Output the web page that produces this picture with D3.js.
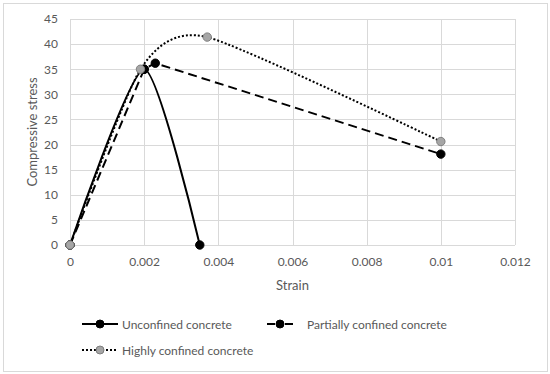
<!DOCTYPE html>
<html>
<head>
<meta charset="utf-8">
<script src="https://cdn.jsdelivr.net/npm/d3@7"></script>
<style>
  body { margin: 0; background: #fff; }
  text { font-family: Lato, "Open Sans", sans-serif; fill: #595959; }
</style>
</head>
<body>
<div id="chart"></div>
<script>
// Datos
const xTicks = [0, 0.002, 0.004, 0.006, 0.008, 0.01, 0.012];
const xTickLabels = ["0", "0.002", "0.004", "0.006", "0.008", "0.01", "0.012"];
const yTicks = [0, 5, 10, 15, 20, 25, 30, 35, 40, 45];

const unconfinedStrain = [0, 0.002, 0.0035];
const unconfinedStress = [0, 35, 0];
const partialStrain = [0, 0.002, 0.0023, 0.01];
const partialStress = [0, 35, 36.2, 18.1];
const highStrain = [0, 0.0019, 0.0037, 0.01];
const highStress = [0, 35, 41.4, 20.6];

const seriesNames = ["Unconfined concrete", "Partially confined concrete", "Highly confined concrete"];

const width = 550, height = 374;
const margin = { top: 19, right: 35, bottom: 129, left: 70 };
const w = width - margin.left - margin.right;
const h = height - margin.top - margin.bottom;

const svg = d3.select("#chart").append("svg")
    .attr("width", width)
    .attr("height", height);

// borde exterior
svg.append("rect")
    .attr("x", 3.5).attr("y", 3.5)
    .attr("width", 544).attr("height", 368)
    .attr("fill", "none").attr("stroke", "#d9d9d9");

const g = svg.append("g").attr("transform", `translate(${margin.left},${margin.top})`);

const x = d3.scaleLinear().domain([0, 0.012]).range([0, w]);
const y = d3.scaleLinear().domain([0, 45]).range([h, 0]);

// --- rejilla ---
g.append("g").selectAll("line").data(yTicks).enter().append("line")
    .attr("x1", 0).attr("x2", w)
    .attr("y1", d => Math.round(y(d)) + 0.5).attr("y2", d => Math.round(y(d)) + 0.5)
    .attr("stroke", "#d9d9d9");
g.append("g").selectAll("line").data(xTicks).enter().append("line")
    .attr("y1", 0).attr("y2", h)
    .attr("x1", d => Math.round(x(d)) + 0.5).attr("x2", d => Math.round(x(d)) + 0.5)
    .attr("stroke", "#d9d9d9");

// --- ejes ---
const xAxis = g.append("g").attr("transform", `translate(0,${h})`)
    .call(d3.axisBottom(x).tickValues(xTicks).tickFormat((d, i) => xTickLabels[i]).tickSize(0).tickPadding(12));
xAxis.select(".domain").remove();
xAxis.selectAll("text").style("font-size", "12px").style("fill", "#595959");

const yAxis = g.append("g")
    .call(d3.axisLeft(y).tickValues(yTicks).tickSize(0).tickPadding(12));
yAxis.select(".domain").remove();
yAxis.selectAll("text").style("font-size", "12px").style("fill", "#595959");

g.append("text").attr("text-anchor", "middle")
    .attr("x", w / 2).attr("y", h + 45)
    .style("font-size", "13px")
    .text("Strain");

g.append("text").attr("text-anchor", "middle")
    .attr("transform", "rotate(-90)")
    .attr("x", -h / 2).attr("y", -33)
    .style("font-size", "13px")
    .text("Compressive stress");

// --- series ---
const smooth = d3.line().x(d => x(d[0])).y(d => y(d[1])).curve(d3.curveCardinal.tension(0.35));
const straight = d3.line().x(d => x(d[0])).y(d => y(d[1]));

const series = [
    { name: seriesNames[0], xs: unconfinedStrain, ys: unconfinedStress, dash: null, fill: "#000", stroke: "#000", line: smooth },
    { name: seriesNames[1], xs: partialStrain, ys: partialStress, dash: "9 5", fill: "#000", stroke: "#000", line: straight },
    { name: seriesNames[2], xs: highStrain, ys: highStress, dash: "2 2", fill: "#a6a6a6", stroke: "#7f7f7f", line: smooth }
];

series.forEach(s => {
    const pts = s.xs.map((v, i) => [v, s.ys[i]]);
    g.append("path")
        .datum(pts)
        .attr("d", s.line)
        .attr("fill", "none")
        .attr("stroke", "#000")
        .attr("stroke-width", 2)
        .attr("stroke-dasharray", s.dash);
});

series.forEach(s => {
    const pts = s.xs.map((v, i) => [v, s.ys[i]]);
    g.append("g").selectAll("circle").data(pts).enter().append("circle")
        .attr("cx", d => x(d[0])).attr("cy", d => y(d[1]))
        .attr("r", 4.2)
        .attr("fill", s.fill)
        .attr("stroke", s.stroke)
        .attr("stroke-width", 1);
});

// --- leyenda ---
const legendPos = [[82, 324], [267, 324], [82, 350]];
series.forEach((s, i) => {
    const [lx, ly] = legendPos[i];
    const lg = svg.append("g").attr("transform", `translate(${lx},${ly})`);
    const len = i === 1 ? 26 : 36;
    if (i === 1) {
        // muestra "– • –"
        [[0, 8], [18, 26]].forEach(([a, b]) => {
            lg.append("line").attr("x1", a).attr("x2", b).attr("y1", 0).attr("y2", 0)
                .attr("stroke", "#000").attr("stroke-width", 2);
        });
    } else {
        lg.append("line")
            .attr("x1", 0).attr("x2", len).attr("y1", 0).attr("y2", 0)
            .attr("stroke", "#000").attr("stroke-width", 2)
            .attr("stroke-dasharray", s.dash);
    }
    lg.append("circle")
        .attr("cx", len / 2).attr("cy", 0).attr("r", 4)
        .attr("fill", s.fill).attr("stroke", s.stroke);
    lg.append("text")
        .attr("x", 40).attr("y", 4.5)
        .style("font-size", "12px")
        .text(s.name);
});
</script>
</body>
</html>
